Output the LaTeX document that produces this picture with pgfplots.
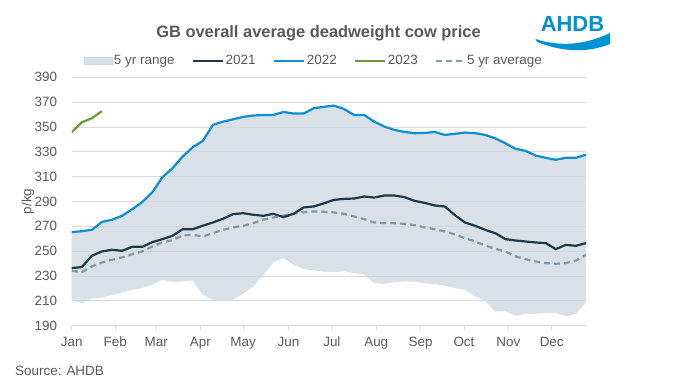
\documentclass[border=0pt]{standalone}
\usepackage{pgfplots}
\pgfplotsset{compat=1.18}
\usepgfplotslibrary{fillbetween}
\usepackage{fontspec}
\setmainfont{Liberation Sans}
\definecolor{c2021}{HTML}{1B3A4B}
\definecolor{c2022}{HTML}{0A8FD4}
\definecolor{c2023}{HTML}{6A9B34}
\definecolor{cavg}{HTML}{7F99A8}
\definecolor{crange}{HTML}{CFDAE0}
\definecolor{cgrid}{HTML}{D9D9D9}
\definecolor{ctext}{HTML}{595959}
\definecolor{clogo}{HTML}{0090D4}
\pgfplotstableread{
w r22 r21 avg lo
0 265.3 236.4 234.2 210.1
1 266.1 237.2 233.2 208.3
2 267.2 246.3 237.7 211.7
3 273.6 249.8 240.9 212.8
4 275.3 251.1 243.1 214.4
5 278.5 250.3 245.0 216.8
6 283.8 253.5 247.6 218.9
7 289.5 253.5 249.8 220.3
8 297.5 257.3 253.8 223.0
9 309.6 259.7 257.0 227.0
10 316.8 262.4 258.9 225.1
11 326.2 267.7 262.7 225.7
12 333.7 267.7 263.2 226.5
13 338.8 270.5 261.8 215.0
14 351.7 273.1 264.5 210.9
15 354.3 276.1 267.2 210.4
16 356.2 279.8 269.1 210.9
17 358.1 280.6 270.4 215.7
18 359.2 279.3 272.6 221.6
19 359.7 278.5 275.3 231.0
20 359.7 280.1 277.1 241.1
21 362.1 277.4 278.7 244.4
22 360.8 280.1 280.1 239.0
23 360.8 285.2 281.4 235.6
24 365.1 286.0 282.0 234.5
25 366.2 288.5 281.7 233.3
26 367.2 291.3 281.2 233.2
27 364.5 292.1 280.1 233.7
28 359.7 292.4 278.0 232.4
29 359.7 294.0 275.8 231.0
30 354.3 293.2 273.1 224.3
31 350.3 294.8 272.6 223.8
32 347.6 294.8 272.6 224.9
33 346.0 293.5 272.0 225.7
34 345.0 290.5 271.0 225.4
35 345.2 288.9 269.1 224.3
36 346.0 286.8 267.7 223.5
37 343.6 286.0 265.9 222.2
38 344.5 279.0 263.5 220.2
39 345.5 273.1 260.5 218.9
40 345.0 270.4 257.8 213.6
41 343.6 267.2 254.6 209.6
42 340.9 264.5 251.9 201.5
43 336.9 259.7 249.8 201.5
44 332.4 258.6 245.8 198.0
45 330.8 257.8 243.6 199.4
46 327.0 257.0 241.7 199.6
47 325.2 256.5 240.4 200.2
48 323.6 251.7 239.9 200.2
49 325.2 255.1 240.4 197.5
50 325.2 254.3 242.5 199.6
51 327.6 256.5 247.1 208.3
}\cowdata
\pgfplotstableread{
w r23
0 345.8
1 353.8
2 357.0
3 362.7
}\cownew
\begin{document}
\begin{tikzpicture}
\begin{axis}[
  scale only axis,
  width=514.3bp, height=248.4bp,
  at={(71.7bp,55.3bp)}, anchor=south west,
  xmin=0, xmax=51, ymin=190, ymax=390,
  ytick={190,210,...,390},
  xtick={0,4.32,8.38,12.75,17.0,21.5,25.8,30.2,34.6,38.9,43.3,47.6},
  xticklabels={Jan,Feb,Mar,Apr,May,Jun,Jul,Aug,Sep,Oct,Nov,Dec},
  /pgf/number format/assume math mode=true,
  ymajorgrids,
  grid style={cgrid, line width=0.75bp},
  axis x line*=bottom, axis y line*=left,
  x axis line style={cgrid, line width=0.75bp, -},
  y axis line style={draw=none},
  ytick style={draw=none},
  xtick style={cgrid, line width=0.75bp},
  tick align=outside,
  major tick length=4bp,
  tick label style={font=\fontsize{13.5}{16}\selectfont, color=ctext},
  yticklabel style={xshift=-7bp},
  xticklabel style={yshift=-4bp},
  ylabel={p/kg},
  ylabel style={at={(axis description cs:-0.085,0.5)}, anchor=center, font=\fontsize{13.5}{16}\selectfont, color=ctext},
  legend style={at={(0.024,1.0668)}, anchor=west, draw=none, fill=none,
    legend columns=5, inner sep=0pt, outer sep=0pt,
    font=\fontsize{13.5}{16}\selectfont, text=ctext,
    nodes={inner sep=1.5bp},
    /tikz/every even column/.append style={column sep=16bp}},
  legend cell align=left,
]
\addplot[name path=up, draw=none, forget plot] table[x=w, y=r22] {\cowdata};
\addplot[name path=lo, draw=none, forget plot] table[x=w, y=lo] {\cowdata};
\addplot[fill=crange, fill opacity=0.8, draw=none, forget plot] fill between[of=up and lo];
\addplot[cavg, line width=2.2bp, dash pattern=on 6bp off 4bp, forget plot] table[x=w, y=avg] {\cowdata};
\addplot[c2021, line width=2.2bp, forget plot] table[x=w, y=r21] {\cowdata};
\addplot[c2022, line width=2.2bp, forget plot] table[x=w, y=r22] {\cowdata};
\addplot[c2023, line width=2.2bp, forget plot] table[x=w, y=r23] {\cownew};
\addlegendimage{legend image code/.code={\fill[crange, fill opacity=0.8] (0bp,-3.5bp) rectangle (28bp,3.5bp);}}
\addlegendentry{5 yr range}
\addlegendimage{legend image code/.code={\draw[c2021, line width=2.2bp] (0bp,0bp) -- (30bp,0bp);}}
\addlegendentry{2021}
\addlegendimage{legend image code/.code={\draw[c2022, line width=2.2bp] (0bp,0bp) -- (30bp,0bp);}}
\addlegendentry{2022}
\addlegendimage{legend image code/.code={\draw[c2023, line width=2.2bp] (0bp,0bp) -- (30bp,0bp);}}
\addlegendentry{2023}
\addlegendimage{legend image code/.code={\draw[cavg, line width=2.2bp, dash pattern=on 6bp off 4bp] (0bp,0bp) -- (28bp,0bp);}}
\addlegendentry{5 yr average}
\end{axis}
\node[font=\bfseries\fontsize{16.5}{19}\selectfont, text=ctext] at (318.5bp,348bp) {GB overall average deadweight cow price};
\node[font=\fontsize{13.5}{16}\selectfont, text=ctext, anchor=west, inner sep=0pt] at (15bp,10.3bp) {Source: AHDB};
\node[font=\bfseries\fontsize{22}{26}\selectfont, text=clogo, inner sep=0pt] at (572.5bp,357bp) {AHDB};
\fill[clogo] (535.6bp,342bp) .. controls (560bp,334bp) and (585bp,336bp) .. (610bp,348bp)
  -- (610bp,337bp) .. controls (585bp,327bp) and (560bp,330bp) .. (537bp,339bp) -- cycle;
\pgfresetboundingbox
\path (0bp,0bp) rectangle (689bp,381bp);
\end{tikzpicture}
\end{document}
